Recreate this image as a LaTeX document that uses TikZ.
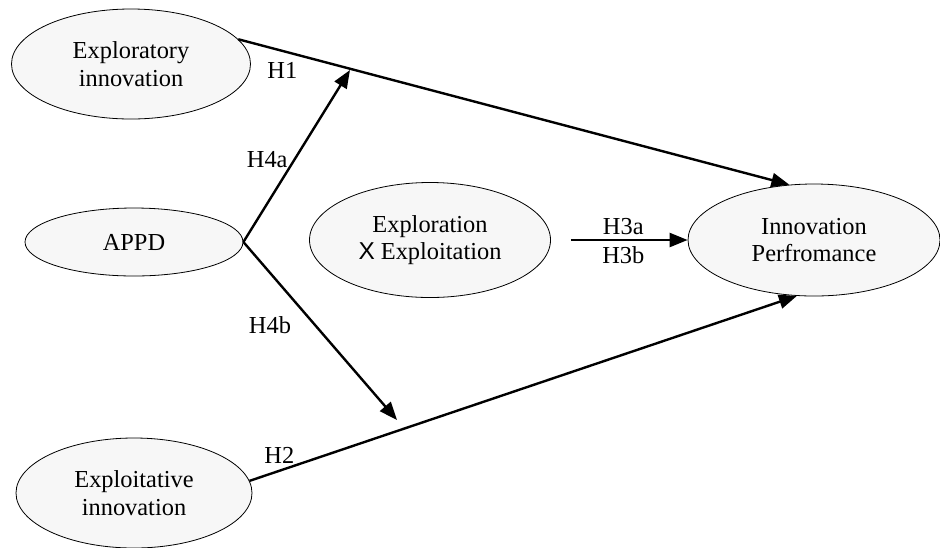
\documentclass[tikz,border=0pt]{standalone}
\usepackage{fontspec}
\setmainfont{Liberation Serif}
\setsansfont{Liberation Sans}
\usetikzlibrary{shapes.geometric,arrows.meta}

\begin{document}
\begin{tikzpicture}[x=0.5pt,y=-0.5pt,line width=1.2pt,>={Triangle[length=9pt,width=7pt]},
  var/.style={ellipse,draw=black,line width=0.4pt,fill=black!3,inner sep=0pt,align=center,font=\fontsize{12.2}{13.8}\selectfont},
  lbl/.style={font=\fontsize{12.2}{13.8}\selectfont,inner sep=0pt}]
\useasboundingbox (0,0) rectangle (940,547);
% constructs
\node[var,minimum width=119.5pt,minimum height=55pt] (explr) at (131,64) {Exploratory\\innovation};
\node[var,minimum width=109pt,minimum height=34pt] (appd) at (134,242) {APPD};
\node[var,minimum width=120.5pt,minimum height=57.5pt] (inter) at (430,240) {Exploration\\{\sffamily X} Exploitation};
\node[var,minimum width=126pt,minimum height=56pt] (perf) at (814,240) {Innovation\\Perfromance};
\node[var,minimum width=118pt,minimum height=55pt] (explt) at (134,493) {Exploitative\\innovation};
\coordinate (h4atip) at (350,70);
\coordinate (h4btip) at (397,420);
% paths
\draw[->] (explr.13) -- node[lbl,pos=0.08,yshift=-10pt]{H1} (perf.114);
\draw[->] (explt.6) -- node[lbl,pos=0.06,xshift=-1.5pt,yshift=7pt]{H2} (perf.253);
\draw[->] (appd.east) -- node[lbl,pos=0.477,xshift=-13.5pt]{H4a} (h4atip);
\draw[->] (appd.east) -- node[lbl,pos=0.466,xshift=-22.5pt]{H4b} (h4btip);
\draw[->] ([xshift=10pt]inter.east) -- node[lbl,xshift=-3pt,yshift=6.5pt]{H3a} node[lbl,xshift=-3pt,yshift=-7.5pt]{H3b} (perf.west);
\end{tikzpicture}
\end{document}
